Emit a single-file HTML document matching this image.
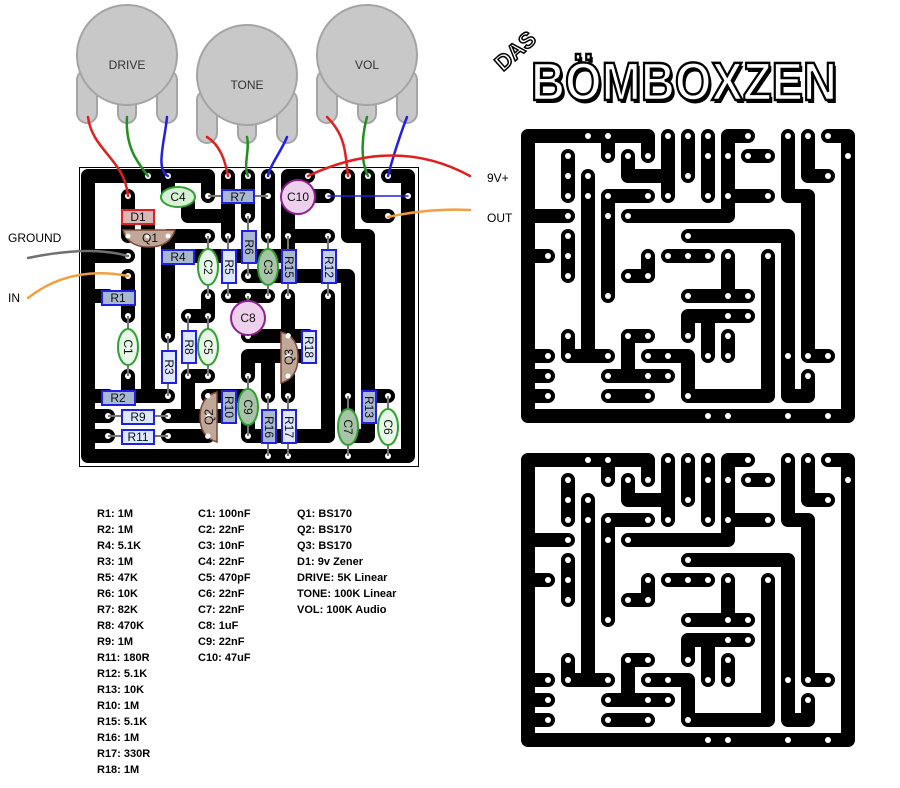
<!DOCTYPE html>
<html><head><meta charset="utf-8"><style>
html,body{margin:0;padding:0;background:#fff;}
svg{display:block;font-family:"Liberation Sans",sans-serif;}
.lg{font-size:11px;font-weight:bold;fill:#000;}
.cl{font-size:12px;font-family:"Liberation Sans",sans-serif;fill:#111;text-anchor:middle;dominant-baseline:central;}
</style></head><body>
<svg width="900" height="788" viewBox="0 0 900 788" xmlns="http://www.w3.org/2000/svg">
<defs>
<g id="tr" fill="none" stroke="#000" stroke-width="14" stroke-linecap="round" stroke-linejoin="round">
<path d="M100,20 V0 H-20 V280 H300 V0 H280"/>
<path d="M60,0 V20"/><path d="M80,20 V40 H120"/><path d="M120,0 V60"/><path d="M140,0 V40"/>
<path d="M160,0 V60"/><path d="M200,0 H180 V80 H80"/><path d="M200,20 H220"/><path d="M180,60 H220"/>
<path d="M240,0 V60 H260 V220 H280"/><path d="M260,0 V40 H280"/><path d="M20,20 V60"/><path d="M40,40 V220"/>
<path d="M20,200 V220 H60"/><path d="M60,60 H100"/><path d="M60,60 V160"/><path d="M-20,80 H20"/>
<path d="M-20,120 H0"/><path d="M20,100 V140"/><path d="M100,120 V140 H80"/><path d="M120,120 H160"/>
<path d="M140,100 H240 V260 H260 V240"/><path d="M220,120 V260 H140 V220 H100"/><path d="M180,120 V160"/>
<path d="M140,160 H200"/><path d="M140,200 V180 H200"/><path d="M160,180 V220"/><path d="M180,200 V220"/>
<path d="M80,200 H100"/><path d="M80,200 V240"/><path d="M60,240 H120"/><path d="M60,260 H100"/>
<path d="M-20,220 H0"/><path d="M-20,240 H0"/><path d="M-20,260 H0"/>
</g>
<g id="ho" fill="#fff">
<circle cx="40" cy="0" r="3"/><circle cx="60" cy="0" r="3"/><circle cx="120" cy="0" r="3"/><circle cx="140" cy="0" r="3"/><circle cx="160" cy="0" r="3"/><circle cx="200" cy="0" r="3"/><circle cx="240" cy="0" r="3"/><circle cx="260" cy="0" r="3"/><circle cx="280" cy="0" r="3"/>
<circle cx="20" cy="20" r="3"/><circle cx="60" cy="20" r="3"/><circle cx="80" cy="20" r="3"/><circle cx="100" cy="20" r="3"/><circle cx="160" cy="20" r="3"/><circle cx="180" cy="20" r="3"/><circle cx="200" cy="20" r="3"/><circle cx="220" cy="20" r="3"/><circle cx="300" cy="20" r="3"/>
<circle cx="20" cy="40" r="3"/><circle cx="40" cy="40" r="3"/><circle cx="140" cy="40" r="3"/><circle cx="280" cy="40" r="3"/>
<circle cx="20" cy="60" r="3"/><circle cx="40" cy="60" r="3"/><circle cx="60" cy="60" r="3"/><circle cx="100" cy="60" r="3"/><circle cx="120" cy="60" r="3"/><circle cx="160" cy="60" r="3"/><circle cx="180" cy="60" r="3"/><circle cx="220" cy="60" r="3"/>
<circle cx="20" cy="80" r="3"/><circle cx="60" cy="80" r="3"/><circle cx="80" cy="80" r="3"/>
<circle cx="20" cy="100" r="3"/><circle cx="140" cy="100" r="3"/>
<circle cx="0" cy="120" r="3"/><circle cx="20" cy="120" r="3"/><circle cx="100" cy="120" r="3"/><circle cx="120" cy="120" r="3"/><circle cx="140" cy="120" r="3"/><circle cx="160" cy="120" r="3"/><circle cx="180" cy="120" r="3"/><circle cx="220" cy="120" r="3"/>
<circle cx="20" cy="140" r="3"/><circle cx="80" cy="140" r="3"/><circle cx="100" cy="140" r="3"/>
<circle cx="60" cy="160" r="3"/><circle cx="140" cy="160" r="3"/><circle cx="180" cy="160" r="3"/><circle cx="200" cy="160" r="3"/>
<circle cx="180" cy="180" r="3"/><circle cx="200" cy="180" r="3"/>
<circle cx="20" cy="200" r="3"/><circle cx="80" cy="200" r="3"/><circle cx="100" cy="200" r="3"/><circle cx="140" cy="200" r="3"/><circle cx="180" cy="200" r="3"/>
<circle cx="0" cy="220" r="3"/><circle cx="20" cy="220" r="3"/><circle cx="60" cy="220" r="3"/><circle cx="100" cy="220" r="3"/><circle cx="120" cy="220" r="3"/><circle cx="160" cy="220" r="3"/><circle cx="180" cy="220" r="3"/><circle cx="240" cy="220" r="3"/><circle cx="260" cy="220" r="3"/><circle cx="280" cy="220" r="3"/>
<circle cx="0" cy="240" r="3"/><circle cx="60" cy="240" r="3"/><circle cx="100" cy="240" r="3"/><circle cx="120" cy="240" r="3"/><circle cx="260" cy="240" r="3"/>
<circle cx="0" cy="260" r="3"/><circle cx="60" cy="260" r="3"/><circle cx="100" cy="260" r="3"/><circle cx="140" cy="260" r="3"/>
<circle cx="160" cy="280" r="3"/><circle cx="180" cy="280" r="3"/><circle cx="240" cy="280" r="3"/><circle cx="280" cy="280" r="3"/>
</g>
</defs>

<!-- PCBs -->
<g transform="translate(548,136)"><use href="#tr"/><use href="#ho"/></g>
<g transform="translate(548,460)"><use href="#tr"/><use href="#ho"/></g>

<!-- Layout board -->
<rect x="79.5" y="167.5" width="339" height="299" fill="#fff" stroke="#000" stroke-width="1"/>
<g transform="translate(108,176)"><use href="#tr"/><use href="#ho"/></g>

<!-- Pots -->
<g fill="#c8c8c8" stroke="#a4a4a4" stroke-width="2">
<rect x="77" y="70" width="20" height="53" rx="10"/><rect x="118" y="90" width="18" height="33" rx="9"/><rect x="157" y="70" width="20" height="53" rx="10"/>
<circle cx="127" cy="55" r="50"/>
<rect x="197" y="90" width="20" height="53" rx="10"/><rect x="238" y="110" width="18" height="33" rx="9"/><rect x="277" y="90" width="20" height="53" rx="10"/>
<circle cx="247" cy="75" r="50"/>
<rect x="317" y="70" width="20" height="53" rx="10"/><rect x="358" y="90" width="18" height="33" rx="9"/><rect x="397" y="70" width="20" height="53" rx="10"/>
<circle cx="367" cy="55" r="50"/>
</g>
<g font-size="12" fill="#333" text-anchor="middle"><text x="127" y="69">DRIVE</text><text x="247" y="89">TONE</text><text x="367" y="69">VOL</text></g>

<!-- Wires -->
<g fill="none" stroke-width="2.5" stroke-linecap="round">
<path d="M88,117 C92,150 125,160 128,196" stroke="#e02020"/>
<path d="M127,117 C125,150 140,165 148,176" stroke="#209020"/>
<path d="M167,117 C165,140 155,170 168,176" stroke="#2020e0"/>
<path d="M207,137 C220,145 225,160 228,176" stroke="#e02020"/>
<path d="M247,137 C250,150 243,165 248,176" stroke="#209020"/>
<path d="M287,137 C282,150 270,165 268,176" stroke="#2020e0"/>
<path d="M327,117 C345,135 345,150 348,176" stroke="#e02020"/>
<path d="M367,117 C362,135 360,160 368,176" stroke="#209020"/>
<path d="M407,117 C400,135 392,160 388,176" stroke="#2020e0"/>
<path d="M308,176 Q395,135 470,176" stroke="#e02020"/>
<path d="M388,217 Q430,208 470,210" stroke="#f0a040"/>
<path d="M128,256 Q90,245 28,258" stroke="#707070"/>
<path d="M128,276 Q70,265 28,298" stroke="#f0a040"/>
<path d="M328,196 H408" stroke="#2020e0" stroke-width="1.5"/>
</g>
<g font-size="12" fill="#000"><text x="8" y="242">GROUND</text><text x="8" y="302">IN</text><text x="487" y="182">9V+</text><text x="487" y="222">OUT</text></g>

<!-- Component leads -->
<g stroke="#777" stroke-width="2">
<path d="M208,196H268M168,196H188M128,216H148M168,256H188M108,296H128M108,396H128M108,416H168M108,436H168M208,236V296M228,236V296M248,216V276M268,236V296M288,236V296M328,236V296M128,316V376M248,296V336M188,316V376M208,316V376M168,336V396M308,336V356M228,396V416M248,376V436M268,396V456M288,396V456M348,396V456M368,396V416M388,396V456"/>
</g>

<!-- Resistors -->
<g stroke="#2020e0" stroke-width="2">
<rect x="222" y="190" width="32" height="13" fill="#a8b8d0"/>
<rect x="162" y="250" width="32" height="14" fill="#a8b8d0"/>
<rect x="102" y="291" width="33" height="14" fill="#a8b8d0"/>
<rect x="102" y="391" width="33" height="14" fill="#a8b8d0"/>
<rect x="122" y="410" width="32" height="14" fill="#dde8ff"/>
<rect x="122" y="430" width="32" height="14" fill="#dde8ff"/>
<rect x="222" y="250" width="14" height="33" fill="#dde8ff"/>
<rect x="242" y="231" width="14" height="32" fill="#a8b8d0"/>
<rect x="282" y="250" width="14" height="33" fill="#a8b8d0"/>
<rect x="322" y="250" width="14" height="33" fill="#c0d0f0"/>
<rect x="182" y="331" width="14" height="32" fill="#dde8ff"/>
<rect x="162" y="351" width="14" height="32" fill="#dde8ff"/>
<rect x="302" y="331" width="14" height="32" fill="#dde8ff"/>
<rect x="222" y="391" width="14" height="32" fill="#a8b8d0"/>
<rect x="262" y="410" width="14" height="33" fill="#a8b8d0"/>
<rect x="282" y="410" width="14" height="33" fill="#dde8ff"/>
<rect x="362" y="391" width="14" height="32" fill="#a8b8d0"/>
</g>
<!-- D1 -->
<rect x="122" y="210" width="32" height="14" fill="#d8b8b8" stroke="#e02020" stroke-width="2"/>
<!-- Caps -->
<g stroke="#30a030" stroke-width="2">
<ellipse cx="178" cy="197" rx="17" ry="10" fill="#d8f0d8"/>
<ellipse cx="208" cy="267" rx="10" ry="18" fill="#e8f8e8"/>
<ellipse cx="268" cy="267" rx="10" ry="18" fill="#a8c4a8"/>
<ellipse cx="128" cy="347" rx="10" ry="18" fill="#e8f8e8"/>
<ellipse cx="208" cy="347" rx="10" ry="18" fill="#e8f8e8"/>
<ellipse cx="248" cy="407" rx="10" ry="18" fill="#a8c4a8"/>
<ellipse cx="348" cy="427" rx="10" ry="18" fill="#a8c4a8"/>
<ellipse cx="388" cy="427" rx="10" ry="18" fill="#e8f8e8"/>
</g>
<g stroke="#902090" stroke-width="2" fill="#ecd0ec">
<circle cx="298" cy="197" r="17"/><circle cx="248" cy="318" r="17"/>
</g>
<!-- Transistors -->
<g fill="#c0a898" stroke="#804838" stroke-width="1.5">
<path d="M123,230 H175 Q170,247 149,247 Q128,247 123,230Z"/>
<path d="M281,332 V383 Q298,378 298,357 Q298,336 281,332Z"/>
<path d="M217,392 V442 Q200,437 200,417 Q200,397 217,392Z"/>
</g>
<g fill="#fff"><circle cx="128" cy="236" r="2.5"/><circle cx="148" cy="236" r="2.5"/><circle cx="168" cy="236" r="2.5"/>
<circle cx="288" cy="336" r="2.5"/><circle cx="288" cy="356" r="2.5"/><circle cx="288" cy="376" r="2.5"/>
<circle cx="208" cy="396" r="2.5"/><circle cx="208" cy="416" r="2.5"/><circle cx="208" cy="436" r="2.5"/></g>

<!-- Component labels -->
<g class="cl">
<text x="238" y="197" class="cl">R7</text><text x="178" y="197" class="cl">C4</text><text x="298" y="197" class="cl">C10</text>
<text x="138" y="217" class="cl">D1</text><text x="150" y="238" class="cl">Q1</text><text x="178" y="257" class="cl">R4</text>
<text x="118" y="298" class="cl">R1</text><text x="118" y="398" class="cl">R2</text><text x="138" y="417" class="cl">R9</text><text x="138" y="437" class="cl">R11</text>
<text x="248" y="318" class="cl">C8</text>
<text class="cl" transform="translate(208,267) rotate(90)">C2</text>
<text class="cl" transform="translate(229,267) rotate(90)">R5</text>
<text class="cl" transform="translate(249,247) rotate(90)">R6</text>
<text class="cl" transform="translate(268,267) rotate(90)">C3</text>
<text class="cl" transform="translate(289,267) rotate(90)">R15</text>
<text class="cl" transform="translate(329,267) rotate(90)">R12</text>
<text class="cl" transform="translate(128,347) rotate(90)">C1</text>
<text class="cl" transform="translate(189,347) rotate(90)">R8</text>
<text class="cl" transform="translate(208,347) rotate(90)">C5</text>
<text class="cl" transform="translate(169,367) rotate(90)">R3</text>
<text class="cl" transform="translate(289,357) rotate(-90)">Q3</text>
<text class="cl" transform="translate(309,347) rotate(90)">R18</text>
<text class="cl" transform="translate(209,417) rotate(-90)">Q2</text>
<text class="cl" transform="translate(229,407) rotate(90)">R10</text>
<text class="cl" transform="translate(248,407) rotate(90)">C9</text>
<text class="cl" transform="translate(269,427) rotate(90)">R16</text>
<text class="cl" transform="translate(289,427) rotate(90)">R17</text>
<text class="cl" transform="translate(348,427) rotate(90)">C7</text>
<text class="cl" transform="translate(369,407) rotate(90)">R13</text>
<text class="cl" transform="translate(388,427) rotate(90)">C6</text>
</g>

<!-- Logo -->
<g font-family="Liberation Sans, sans-serif" font-weight="bold">
<text x="533" y="103" font-size="54" fill="#000" textLength="306" lengthAdjust="spacingAndGlyphs">BÖMBOXZEN</text>
<text x="531" y="100" font-size="54" fill="#fff" stroke="#000" stroke-width="2.5" textLength="306" lengthAdjust="spacingAndGlyphs">BÖMBOXZEN</text>
<text transform="translate(503,72) rotate(-42)" font-size="22" fill="#fff" stroke="#000" stroke-width="1.5">DAS</text>
</g>

<!-- Legend -->
<g class="lg">
<text x="97" y="517">R1: 1M</text><text x="97" y="533">R2: 1M</text><text x="97" y="549">R4: 5.1K</text><text x="97" y="565">R3: 1M</text><text x="97" y="581">R5: 47K</text><text x="97" y="597">R6: 10K</text><text x="97" y="613">R7: 82K</text><text x="97" y="629">R8: 470K</text><text x="97" y="645">R9: 1M</text><text x="97" y="661">R11: 180R</text><text x="97" y="677">R12: 5.1K</text><text x="97" y="693">R13: 10K</text><text x="97" y="709">R10: 1M</text><text x="97" y="725">R15: 5.1K</text><text x="97" y="741">R16: 1M</text><text x="97" y="757">R17: 330R</text><text x="97" y="773">R18: 1M</text>
<text x="198" y="517">C1: 100nF</text><text x="198" y="533">C2: 22nF</text><text x="198" y="549">C3: 10nF</text><text x="198" y="565">C4: 22nF</text><text x="198" y="581">C5: 470pF</text><text x="198" y="597">C6: 22nF</text><text x="198" y="613">C7: 22nF</text><text x="198" y="629">C8: 1uF</text><text x="198" y="645">C9: 22nF</text><text x="198" y="661">C10: 47uF</text>
<text x="297" y="517">Q1: BS170</text><text x="297" y="533">Q2: BS170</text><text x="297" y="549">Q3: BS170</text><text x="297" y="565">D1: 9v Zener</text><text x="297" y="581">DRIVE: 5K Linear</text><text x="297" y="597">TONE: 100K Linear</text><text x="297" y="613">VOL: 100K Audio</text>
</g>
</svg>
</body></html>
